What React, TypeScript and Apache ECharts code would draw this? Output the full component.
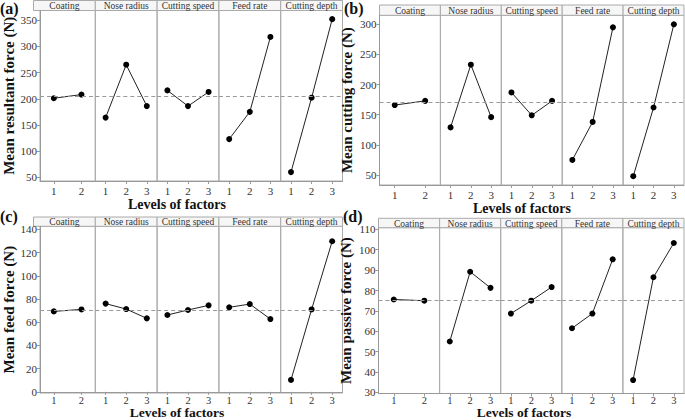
import React, { useEffect, useRef } from "react";
import * as echarts from "echarts";

const factors = ["Coating", "Nose radius", "Cutting speed", "Feed rate", "Cutting depth"];
const levels = [["1", "2"], ["1", "2", "3"], ["1", "2", "3"], ["1", "2", "3"], ["1", "2", "3"]];

const resultantForce = [[201, 208], [164, 265, 186], [216, 186, 213], [123, 175, 318], [60, 202, 352]];
const cuttingForce = [[166, 173], [129, 233, 146], [187, 149, 173], [75, 138, 295], [48, 162, 300]];
const feedForce = [[69.3, 71], [76, 71.3, 63.3], [66.2, 70.5, 74.5], [72.8, 75.6, 62.7], [10.3, 71, 129.7]];
const passiveForce = [[75.6, 75], [55, 89.2, 81.3], [68.7, 75, 81.7], [61.5, 68.7, 95.3], [36.1, 86.5, 103.3]];

const resultantMean = 205;
const cuttingMean = 170;
const feedMean = 70;
const passiveMean = 75;

const resultantTicks = [50, 100, 150, 200, 250, 300, 350];
const cuttingTicks = [50, 100, 150, 200, 250, 300];
const feedTicks = [0, 20, 40, 60, 80, 100, 120, 140];
const passiveTicks = [30, 40, 50, 60, 70, 80, 90, 100, 110];

const FONT = "Liberation Serif";

const panels = [
  {
    tag: "(a)", yName: "Mean resultant force (N)", values: resultantForce, mean: resultantMean, ticks: resultantTicks,
    min: 43, max: 368.5, left: 33.5, right: 342.5, headerTop: 0.5, plotTop: 10.5, plotBottom: 181,
    tagX: 0, tagY: 8, titleX: 177, titleY: 204, titleSize: 14, nameGap: 24,
  },
  {
    tag: "(b)", yName: "Mean cutting force (N)", values: cuttingForce, mean: cuttingMean, ticks: cuttingTicks,
    min: 33.4, max: 315, left: 379.5, right: 684, headerTop: 5, plotTop: 15.3, plotBottom: 185,
    tagX: 344, tagY: 8, titleX: 522, titleY: 208, titleSize: 14, nameGap: 25,
  },
  {
    tag: "(c)", yName: "Mean feed force (N)", values: feedForce, mean: feedMean, ticks: feedTicks,
    min: -1, max: 142.6, left: 33.5, right: 342.5, headerTop: 217, plotTop: 226.3, plotBottom: 393,
    tagX: 0, tagY: 216, titleX: 177, titleY: 412.5, titleSize: 13.5, nameGap: 24,
  },
  {
    tag: "(d)", yName: "Mean passive force (N)", values: passiveForce, mean: passiveMean, ticks: passiveTicks,
    min: 29.5, max: 110.8, left: 378.5, right: 684, headerTop: 218.3, plotTop: 227.7, plotBottom: 393.5,
    tagX: 343, tagY: 216, titleX: 524, titleY: 412.5, titleSize: 13.5, nameGap: 25,
  },
];

export default function App() {
  const ref = useRef<HTMLDivElement>(null);
  useEffect(() => {
    document.body.style.margin = "0";
    const chart = echarts.init(ref.current!, null, { renderer: "svg" });
    const grid: any[] = [];
    const xAxis: any[] = [];
    const yAxis: any[] = [];
    const series: any[] = [];
    const graphic: any[] = [];
    panels.forEach((p, pi) => {
      const w = (p.right - p.left) / 5;
      const bottomRow = pi >= 2;
      factors.forEach((fac, f) => {
        const idx = grid.length;
        const gx = p.left + f * w;
        grid.push({
          left: gx, top: p.plotTop, width: w, height: p.plotBottom - p.plotTop,
          show: true, borderColor: "#aaa", borderWidth: 1, backgroundColor: "transparent",
        });
        xAxis.push({
          type: "category", gridIndex: idx, data: levels[f], boundaryGap: true,
          axisLine: { show: true, lineStyle: { color: "#999", width: 1 } },
          axisTick: { show: true, alignWithLabel: true, length: 3, lineStyle: { color: "#999" } },
          axisLabel: {
            fontSize: bottomRow ? 10.5 : 11, color: "#333", fontFamily: FONT,
            margin: bottomRow ? 2 : 4, lineHeight: bottomRow ? 10 : 12,
          },
          splitLine: { show: false },
        });
        if (f === 0) {
          yAxis.push({
            type: "value", gridIndex: idx, min: p.min, max: p.max,
            axisLine: { show: true, lineStyle: { color: "#999", width: 1 } },
            axisTick: { show: true, length: 3, customValues: p.ticks, lineStyle: { color: "#999" } },
            axisLabel: { customValues: p.ticks, fontSize: 11, color: "#333", fontFamily: FONT, margin: 3 },
            splitLine: { show: false },
            name: p.yName, nameLocation: "middle", nameGap: p.nameGap,
            nameTextStyle: { fontSize: 15, fontWeight: "bold", color: "#111", fontFamily: FONT },
          });
        } else {
          yAxis.push({
            type: "value", gridIndex: idx, min: p.min, max: p.max,
            axisLine: { show: false }, axisTick: { show: false }, axisLabel: { show: false },
            splitLine: { show: false },
          });
        }
        series.push({
          type: "line", xAxisIndex: idx, yAxisIndex: idx, data: p.values[f],
          symbol: "circle", symbolSize: 6,
          itemStyle: { color: "#000" },
          lineStyle: { color: "#222", width: 1 },
          markLine: {
            silent: true, symbol: "none", label: { show: false },
            lineStyle: { type: [4, 3], color: "#999", width: 1 },
            data: [{ yAxis: p.mean }],
          },
        });
        graphic.push({
          type: "rect",
          shape: { x: gx, y: p.headerTop, width: w, height: p.plotTop - p.headerTop },
          style: { fill: "#f6f6f6", stroke: "#aaa", lineWidth: 1 },
        });
        graphic.push({
          type: "text", x: gx + w / 2, y: (p.headerTop + p.plotTop) / 2 + 0.5,
          style: {
            text: fac, fontSize: 9.5, fontFamily: FONT, fill: "#333",
            textAlign: "center", textVerticalAlign: "middle", align: "center", verticalAlign: "middle",
          },
        });
      });
      graphic.push({
        type: "text", x: p.tagX, y: p.tagY,
        style: {
          text: p.tag, fontSize: 16, fontWeight: "bold", fontFamily: FONT, fill: "#111",
          textAlign: "left", textVerticalAlign: "middle", align: "left", verticalAlign: "middle",
        },
      });
      graphic.push({
        type: "text", x: p.titleX, y: p.titleY,
        style: {
          text: "Levels of factors", fontSize: p.titleSize, fontWeight: "bold", fontFamily: FONT, fill: "#111",
          textAlign: "center", textVerticalAlign: "middle", align: "center", verticalAlign: "middle",
          lineHeight: 12,
        },
      });
    });
    chart.setOption({
      animation: false,
      backgroundColor: "#fff",
      grid, xAxis, yAxis, series, graphic,
    });
    return () => chart.dispose();
  }, []);
  return <div ref={ref} style={{ width: 685, height: 420 }} />;
}
